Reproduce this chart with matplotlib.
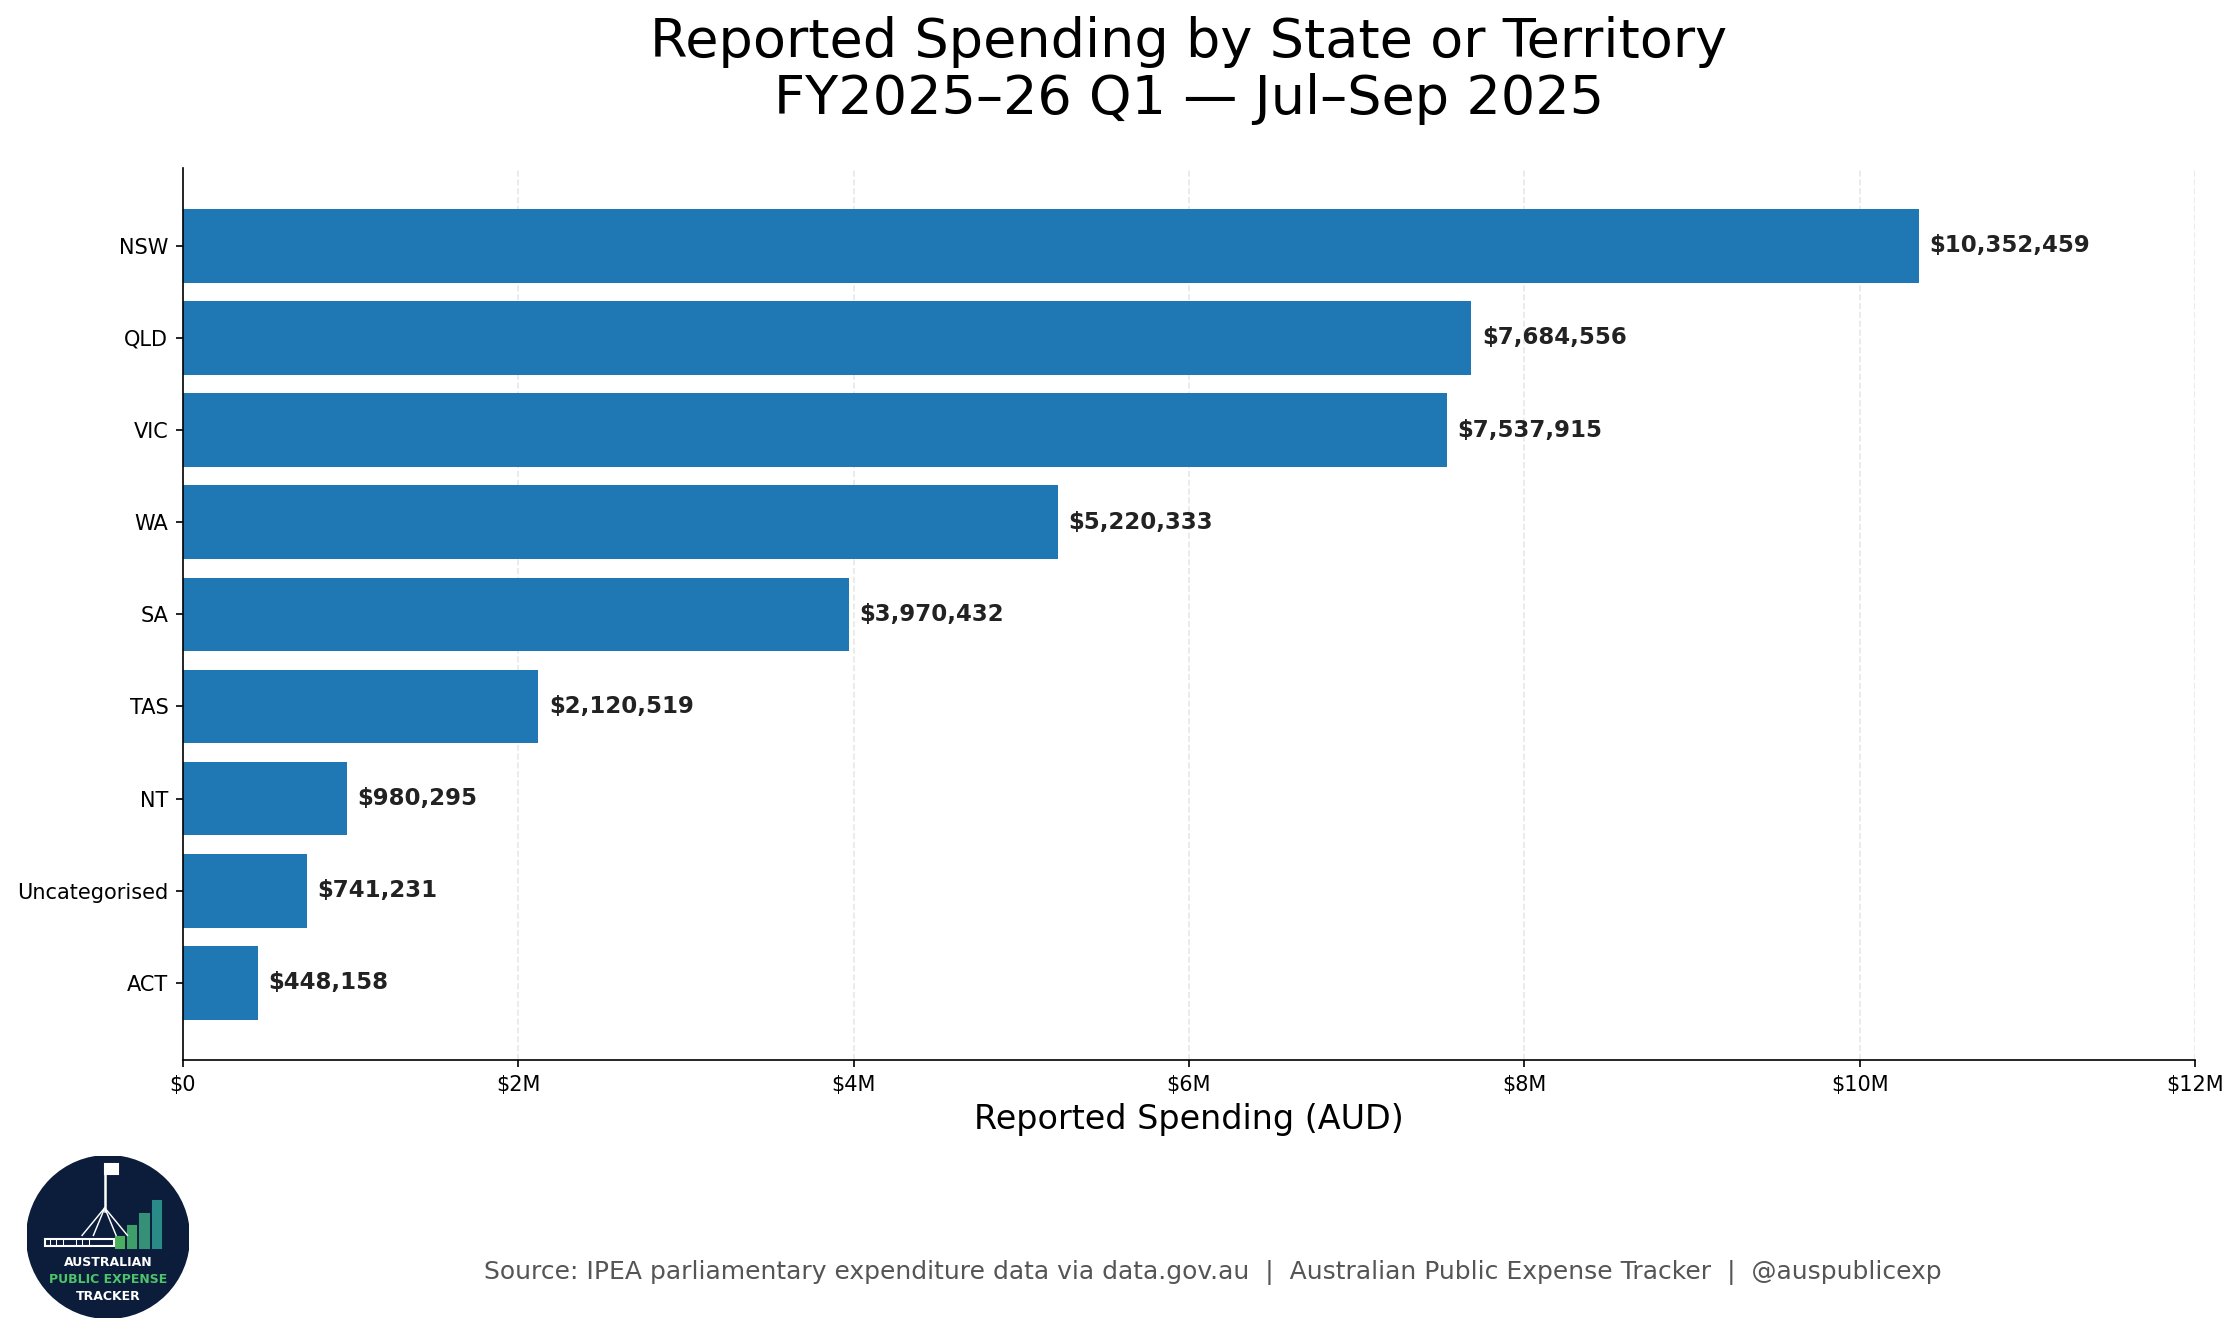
import matplotlib
matplotlib.use("Agg")
import matplotlib.pyplot as plt
from matplotlib.patches import Circle, Rectangle
from matplotlib.ticker import FuncFormatter

# data (reported spending, AUD)
states = ['NSW', 'QLD', 'VIC', 'WA', 'SA', 'TAS', 'NT', 'Uncategorised', 'ACT']
spending = [10352459, 7684556, 7537915, 5220333, 3970432, 2120519, 980295, 741231, 448158]
xticks_m = [0, 2, 4, 6, 8, 10, 12]

title = 'Reported Spending by State or Territory\nFY2025\u201326 Q1 \u2014 Jul\u2013Sep 2025'
source = ('Source: IPEA parliamentary expenditure data via data.gov.au  |  '
          'Australian Public Expense Tracker  |  @auspublicexp')

fig = plt.figure(figsize=(2239 / 150, 1337 / 150), dpi=150)
ax = fig.add_axes([0.0817, 0.207, 0.8986, 0.667])

ypos = list(range(len(states)))
ax.barh(ypos, spending, height=0.8, color='#1f77b4', zorder=2)
ax.set_yticks(ypos)
ax.set_yticklabels(states, fontsize=10)
ax.invert_yaxis()

for y, v in zip(ypos, spending):
    ax.annotate(f'${v:,.0f}', xy=(v, y), xytext=(5, 0), textcoords='offset points',
                va='center', ha='left', fontsize=11, fontweight='bold', color='#222222')

ax.set_xlim(0, 12e6)
ax.set_xticks([m * 1e6 for m in xticks_m])
ax.xaxis.set_major_formatter(FuncFormatter(lambda x, p: '$0' if x == 0 else f'${x / 1e6:.0f}M'))
ax.tick_params(axis='x', labelsize=10)
ax.set_xlabel('Reported Spending (AUD)', fontsize=16, labelpad=4)
ax.grid(axis='x', linestyle='--', color='#dddddd', alpha=0.7, zorder=0)
ax.spines['top'].set_visible(False)
ax.spines['right'].set_visible(False)

fig.text(0.531, 0.988, title, ha='center', va='top', fontsize=26, linespacing=1.12)
fig.text(0.5417, 0.048, source, ha='center', va='center', fontsize=12, color='#555555')

# logo
lax = fig.add_axes([27 / 2239, 19 / 1337, 162 / 2239, 162 / 1337])
lax.set_xlim(0, 1)
lax.set_ylim(0, 1)
lax.axis('off')
lax.add_patch(Circle((0.5, 0.5), 0.5, color='#0b1d3a'))
bar_x = [0.55, 0.625, 0.70, 0.78]
bar_top = [0.50, 0.565, 0.64, 0.72]
bar_col = ['#4caf5f', '#3f9f6a', '#369077', '#2a8a88']
for bx, bt, bc in zip(bar_x, bar_top, bar_col):
    lax.add_patch(Rectangle((bx, 0.43), 0.05, bt - 0.43, color=bc))
# parliament house
lax.add_patch(Rectangle((0.11, 0.445), 0.43, 0.04, facecolor='none', edgecolor='white', lw=1.0))
for wx in [0.14, 0.18, 0.22, 0.30, 0.34, 0.38]:
    lax.plot([wx, wx], [0.445, 0.485], color='white', lw=0.5)
lax.plot([0.48, 0.48], [0.66, 0.93], color='white', lw=1.2)
lax.add_patch(Rectangle((0.48, 0.89), 0.08, 0.06, color='white'))
for lx in [0.34, 0.41, 0.55, 0.62]:
    lax.plot([0.48, lx], [0.68, 0.51], color='white', lw=0.7)
lax.text(0.5, 0.34, 'AUSTRALIAN', ha='center', va='center', fontsize=6, fontweight='bold', color='white')
lax.text(0.5, 0.24, 'PUBLIC EXPENSE', ha='center', va='center', fontsize=6, fontweight='bold', color='#4cc46a')
lax.text(0.5, 0.135, 'TRACKER', ha='center', va='center', fontsize=6, fontweight='bold', color='white')

fig.savefig('out.png', dpi=150)
